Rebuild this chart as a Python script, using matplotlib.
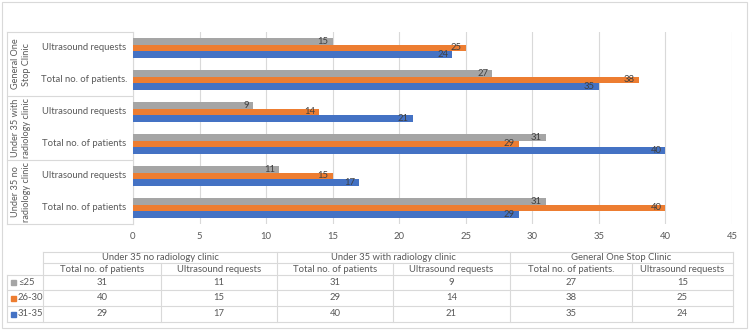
import matplotlib.pyplot as plt
import numpy as np

plt.rcParams['font.family'] = ['Lato', 'DejaVu Sans']

# data
groups = ['Under 35 no\nradiology clinic', 'Under 35 with\nradiology clinic', 'General One\nStop Clinic']
group_names = ['Under 35 no radiology clinic', 'Under 35 with radiology clinic', 'General One Stop Clinic']
measures = [['Total no. of patients', 'Ultrasound requests'],
            ['Total no. of patients', 'Ultrasound requests'],
            ['Total no. of patients.', 'Ultrasound requests']]
series = ['≤25', '26-30', '31-35']
le25 = [31, 11, 31, 9, 27, 15]
age26_30 = [40, 15, 29, 14, 38, 25]
age31_35 = [29, 17, 40, 21, 35, 24]
colors = ['#A5A5A5', '#ED7D31', '#4472C4']

W, H = 750, 331
txt = '#595959'
fs = 6.8

fig = plt.figure(figsize=(W / 100, H / 100), dpi=100)

# overlay in pixel coordinates for the frame, category boxes and table
ov = fig.add_axes([0, 0, 1, 1])
ov.set_xlim(0, W)
ov.set_ylim(H, 0)
ov.axis('off')

# bar area
x0, x1, y0, y1 = 133, 732, 32, 224
ax = fig.add_axes([x0 / W, 1 - y1 / H, (x1 - x0) / W, (y1 - y0) / H])
vals = [le25, age26_30, age31_35]
n = len(le25)
pos = np.arange(n)
h = 0.625 / 3
for k, (v, c) in enumerate(zip(vals, colors)):
    off = (1 - k) * h
    bars = ax.barh(pos + off, v, height=h, color=c, zorder=3)
    for b, val in zip(bars, v):
        ax.text(val - 0.3, b.get_y() + h / 2, str(val), ha='right', va='center',
                fontsize=fs, color='#404040', zorder=4)
ax.set_xlim(0, 45)
ax.set_ylim(-0.5, n - 0.5)
ax.set_xticks(range(0, 46, 5))
ax.set_yticks([])
ax.grid(axis='x', color='#D9D9D9', lw=0.8, zorder=0)
for s in ['top', 'right', 'bottom']:
    ax.spines[s].set_visible(False)
ax.spines['left'].set_color('#D9D9D9')
ax.tick_params(axis='x', length=0, labelsize=fs, labelcolor=txt, pad=6)

# category boxes on the left
line = dict(color='#D9D9D9', lw=0.8)
cat_lbls = [m for pair in measures for m in pair]
row_h = (y1 - y0) / n
for g in range(len(groups) + 1):
    yy = y1 - g * 2 * row_h
    ov.plot([7, x0], [yy, yy], **line)
ov.plot([7, 7], [y0, y1], **line)
for i, lbl in enumerate(cat_lbls):
    yc = y1 - (i + 0.5) * row_h
    ov.text(84, yc, lbl, ha='center', va='center', fontsize=fs, color=txt)
for g, gl in enumerate(groups):
    yc = y1 - (g + 1) * 2 * row_h + row_h
    ov.text(21, yc, gl, ha='center', va='center', rotation=90, fontsize=6.6,
            color=txt, linespacing=1.35)

# data table
cols = [43, 161, 277, 393, 510, 632, 733]
rows = [252, 263, 275, 290, 306, 322]
for yy in rows[2:]:
    ov.plot([7, cols[-1]], [yy, yy], **line)
ov.plot([cols[0], cols[-1]], [rows[0], rows[0]], **line)
ov.plot([cols[0], cols[-1]], [rows[1], rows[1]], **line)
ov.plot([7, 7], [rows[2], rows[-1]], **line)
for j, xx in enumerate(cols):
    top = rows[0] if j % 2 == 0 else rows[1]
    ov.plot([xx, xx], [top, rows[-1]], **line)
for g, gn in enumerate(group_names):
    xc = (cols[2 * g] + cols[2 * g + 2]) / 2
    ov.text(xc, (rows[0] + rows[1]) / 2, gn, ha='center', va='center', fontsize=fs, color=txt)
    for m in range(2):
        j = 2 * g + m
        xc = (cols[j] + cols[j + 1]) / 2
        ov.text(xc, (rows[1] + rows[2]) / 2, measures[g][m], ha='center', va='center',
                fontsize=fs, color=txt)
for r, (sname, v, c) in enumerate(zip(series, vals, colors)):
    yc = (rows[2 + r] + rows[3 + r]) / 2
    ov.add_patch(plt.Rectangle((11, yc - 2.5), 5, 5, color=c))
    ov.text(18, yc, sname, ha='left', va='center', fontsize=fs, color=txt)
    for j in range(n):
        xc = (cols[j] + cols[j + 1]) / 2
        ov.text(xc, yc, str(v[j]), ha='center', va='center', fontsize=fs, color=txt)

# outer frame
ov.add_patch(plt.Rectangle((2, 2), W - 5, H - 5, fill=False, ec='#D9D9D9', lw=0.8))

fig.savefig('out.png', dpi=100)
